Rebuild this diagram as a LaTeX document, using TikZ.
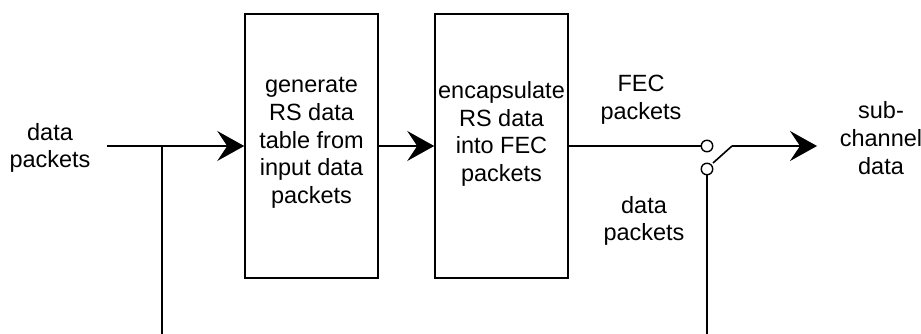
\documentclass[tikz,border=0pt]{standalone}
\usepackage{fontspec}
\setmainfont{Liberation Sans}
\usetikzlibrary{arrows.meta}
\begin{document}
\begin{tikzpicture}
		[x=1pt,y=-1pt,line width=1.6pt,>={Stealth[length=27pt,width=30pt,inset=10pt]}]
			\tikzstyle{every node}=[font=\fontsize{23.5}{27.7}\selectfont,
		align=center, inner sep=0pt]
			\tikzstyle{block}=[draw, minimum width=133pt, minimum height=264pt]
			\tikzstyle{contact}=[circle, draw, fill=white, line width=1.4pt,
		minimum size=11.5pt]
		\useasboundingbox (0,0) rectangle (921,334);
		%-----blocks
		 \node[block] (gen) at (311.5,146) {};
		 \node[block] (enc) at (501.5,146) {};
		 \node (gentxt) at (311.5,143) {generate\\RS data\\table from\\input data\\packets};
		 \node (enctxt) at (501.5,134) {encapsulate\\RS data\\into FEC\\packets};
		%-----switch
		 \node[contact] (fec) at (707,146) {};
		 \node[contact] (dat) at (707,169) {};
		 \coordinate (lever) at (713,163);
		 \coordinate (pivot) at (732,146);
		 \coordinate (out) at (817,146);
		%-----ends
		 \coordinate (in) at (107,146);
		 \coordinate (tap) at (162,146);
		 \coordinate (tapend) at (162,334);
		 \coordinate (datend) at (707,334);
		%-----labels
		 \node (inlbl) at (50,148) {data\\packets};
		 \node (feclbl) at (641,100) {FEC\\packets};
		 \node (datlbl) at (644,221) {data\\packets};
		 \node (outlbl) at (881,138) {sub-\\channel\\data};
		 
		 \draw[->] (in) -- (gen.west);
		 \draw[->] (gen.east) -- (enc.west);
		 \draw[->] (pivot) -- (out);
		 \foreach \from/\to in {tap/tapend,enc.east/fec,lever/pivot,dat/datend}
		 \draw (\from) -- (\to);
		 
		 	\end{tikzpicture}
\end{document}
